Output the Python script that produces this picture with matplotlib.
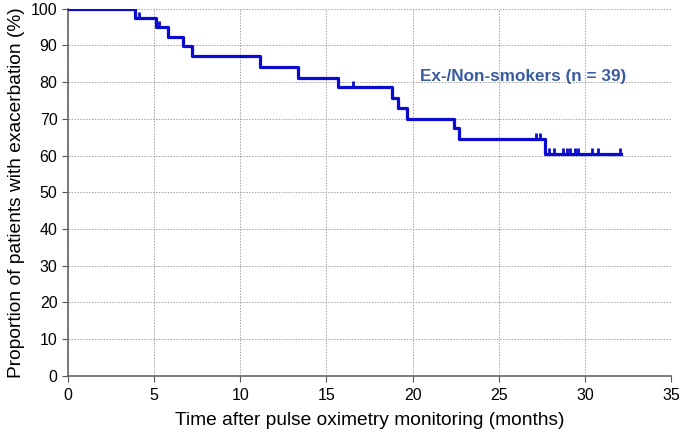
import matplotlib
matplotlib.use("Agg")
import matplotlib.pyplot as plt
import numpy as np

# Kaplan-Meier curve
event_times = [0, 3.89, 5.09, 5.80, 6.67, 7.20, 11.14, 13.35, 15.65,
               18.79, 19.17, 19.66, 22.40, 22.69, 27.68]
surv_levels = [100, 97.4, 94.9, 92.3, 89.7, 87.0, 84.2, 81.2, 78.6,
               75.8, 73.0, 70.0, 67.4, 64.6, 60.4]
end_time = 32.1
censor_times = [4.12, 5.28, 16.52, 27.15, 27.4, 27.9, 28.2, 28.7, 28.95,
                29.15, 29.4, 29.6, 30.4, 30.75, 32.0]

group_label = "Ex-/Non-smokers (n = 39)"
x_ticks = [0, 5, 10, 15, 20, 25, 30, 35]
y_ticks = [0, 10, 20, 30, 40, 50, 60, 70, 80, 90, 100]

plt.rcParams['font.family'] = ['Liberation Sans', 'DejaVu Sans']

fig = plt.figure(figsize=(6.85, 4.32), dpi=100)
ax = fig.add_axes([0.099, 0.130, 0.881, 0.850])

t = np.array(event_times + [end_time])
s = np.array(surv_levels + [surv_levels[-1]])
ax.step(t, s, where="post", color="#0a0ad0", lw=2.3, zorder=3)

# censor marks sit on the curve, pointing up
cen_y = [s[np.searchsorted(t, c, side="right") - 1] for c in censor_times]
ax.plot(censor_times, cen_y, ls="none", marker=2, ms=4, mew=2.0,
        color="#0a0ad0", zorder=4)

ax.text(20.4, 81.5, group_label, color="#3a5ba0", fontsize=12.3,
        fontweight="bold", ha="left", va="center")

ax.set_xlim(0, 35)
ax.set_ylim(0, 100)
ax.set_xticks(x_ticks)
ax.set_yticks(y_ticks)
ax.tick_params(labelsize=11.5, length=4, color="#555555", direction="out")
ax.tick_params(axis="x", pad=5)
ax.grid(True, ls=(0, (1.5, 1.5)), color="#a0a0a0", lw=0.7)
for side in ("top", "right"):
    ax.spines[side].set_visible(False)
for side in ("left", "bottom"):
    ax.spines[side].set_color("#666666")
    ax.spines[side].set_linewidth(1.2)

ax.set_xlabel("Time after pulse oximetry monitoring (months)", fontsize=13.8,
              labelpad=6)
ax.set_ylabel("Proportion of patients with exacerbation (%)", fontsize=13.8,
              labelpad=4)

fig.savefig("out.png", dpi=100)
